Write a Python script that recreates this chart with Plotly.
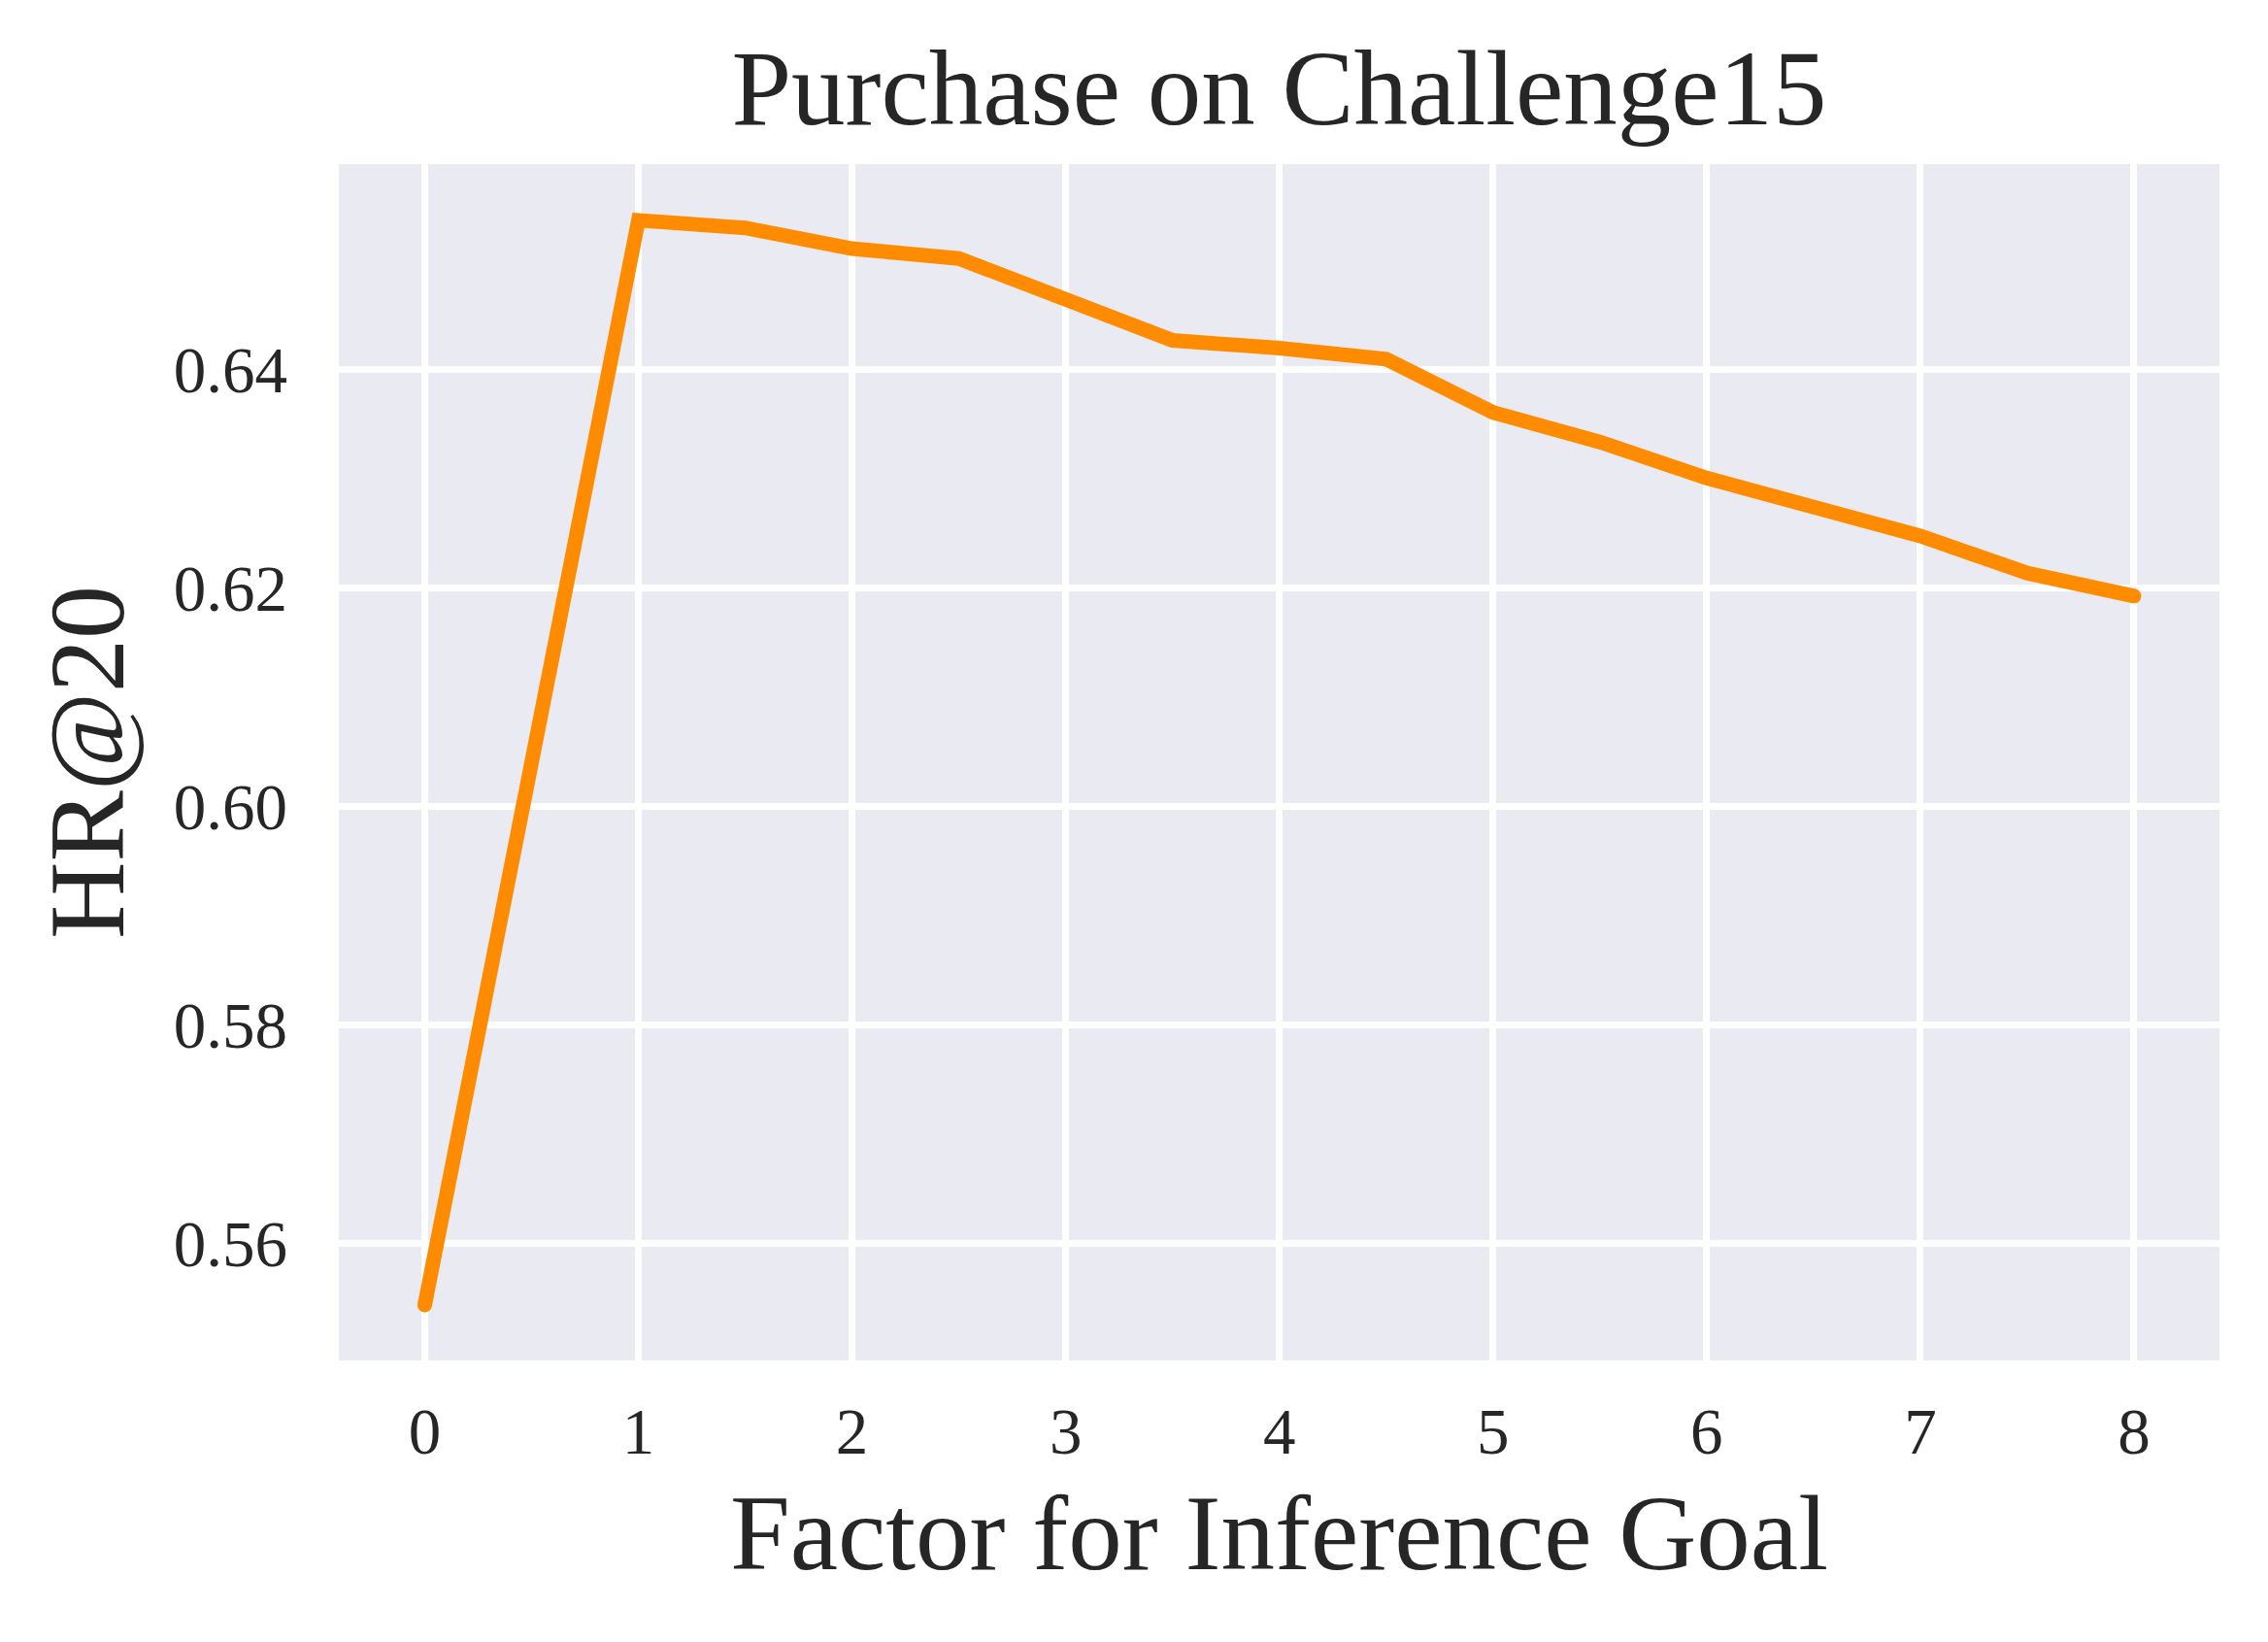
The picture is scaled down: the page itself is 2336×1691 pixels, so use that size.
import plotly.graph_objects as go

# factor for inference goal vs HR@20 (purchase, Challenge15)
factor = [0, 1, 1.5, 2, 2.5, 3, 3.5, 4, 4.5, 5, 5.5, 6, 6.5, 7, 7.5, 8]
hr20 = [0.5544, 0.6537, 0.6530, 0.6511, 0.6502, 0.6464, 0.6427, 0.6420,
        0.6410, 0.6361, 0.6334, 0.6301, 0.6273, 0.6248, 0.6214, 0.6193]

x_ticks = [0, 1, 2, 3, 4, 5, 6, 7, 8]
y_ticks = [0.56, 0.58, 0.60, 0.62, 0.64]
y_tick_text = ["0.56", "0.58", "0.60", "0.62", "0.64"]

LINE_COLOR = "#ff8c00"
BG_COLOR = "#eaeaf2"
TEXT_COLOR = "#262626"
FONT = "Liberation Serif, Times New Roman, serif"
LW = 15

fig = go.Figure()
fig.add_trace(
    go.Scatter(
        x=factor,
        y=hr20,
        mode="lines",
        line=dict(color=LINE_COLOR, width=LW),
        showlegend=False,
        hoverinfo="skip",
    )
)
# round caps at both ends of the line
fig.add_trace(
    go.Scatter(
        x=[factor[0], factor[-1]],
        y=[hr20[0], hr20[-1]],
        mode="markers",
        marker=dict(color=LINE_COLOR, size=LW, line=dict(width=0)),
        showlegend=False,
        hoverinfo="skip",
    )
)

# page body has an 8px margin, so the figure is 16px smaller than the window
fig.update_layout(
    width=2320,
    height=1675,
    paper_bgcolor="white",
    plot_bgcolor=BG_COLOR,
    font=dict(family=FONT, color=TEXT_COLOR, size=67),
    margin=dict(l=341, r=42, t=161, b=282),
    title=dict(
        text="Purchase on Challenge15",
        font=dict(size=111, family=FONT, color=TEXT_COLOR),
        x=0.5,
        xref="paper",
        xanchor="center",
        yref="paper",
        y=1,
        yanchor="bottom",
        pad=dict(b=41),
    ),
    xaxis=dict(
        range=[-0.402, 8.40],
        tickvals=x_ticks,
        showgrid=True,
        gridcolor="white",
        gridwidth=7,
        zeroline=False,
        showline=False,
        ticks="",
        automargin=False,
        ticklabelstandoff=28,
        tickfont=dict(size=67),
        title=dict(text="Factor for Inference Goal", font=dict(size=111), standoff=28),
    ),
    yaxis=dict(
        range=[0.54933, 0.65884],
        tickvals=y_ticks,
        ticktext=y_tick_text,
        showgrid=True,
        gridcolor="white",
        gridwidth=7,
        zeroline=False,
        showline=False,
        ticks="",
        automargin=False,
        ticklabelstandoff=52,
        tickfont=dict(size=67),
        title=dict(text="HR@20", font=dict(size=110), standoff=14),
    ),
)

fig.write_html("out.html")
